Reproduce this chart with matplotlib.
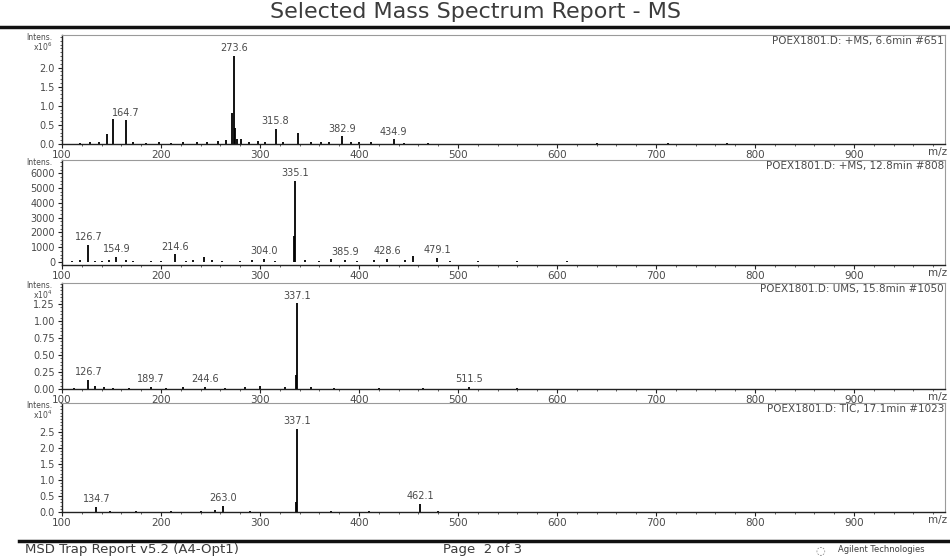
import matplotlib
matplotlib.use("Agg")
import matplotlib.pyplot as plt
from matplotlib.ticker import MultipleLocator, FixedLocator
from matplotlib.transforms import blended_transform_factory

# ---- spectrum data (m/z, intensity) ----
p1_mz = [118, 128, 137, 145, 152, 164.7, 172, 185, 198, 210, 222, 236, 246,
         258, 266, 271.6, 273.6, 274.6, 277, 281, 289, 298, 305, 315.8, 323,
         338, 352, 362, 370, 382.9, 392, 400, 412, 434.9, 445, 470, 640, 712, 772]
p1_int = [0.03, 0.05, 0.04, 0.26, 0.66, 0.62, 0.05, 0.03, 0.04, 0.03, 0.05, 0.06, 0.05,
          0.08, 0.10, 0.80, 2.30, 0.42, 0.12, 0.14, 0.05, 0.08, 0.04, 0.40, 0.05,
          0.30, 0.04, 0.06, 0.05, 0.20, 0.04, 0.06, 0.04, 0.12, 0.03, 0.02, 0.02, 0.02, 0.03]
p1_labels = [164.7, 273.6, 315.8, 382.9, 434.9]

p2_mz = [110, 118, 126.7, 133, 140, 147, 154.9, 165, 172, 190, 200, 214.6, 225,
         232, 243, 252, 262, 280, 292, 304.0, 315, 334.1, 335.1, 345, 360, 372,
         385.9, 398, 415, 428.6, 446, 455, 479.1, 492, 520, 560, 610]
p2_int = [60, 120, 1150, 100, 80, 150, 330, 120, 90, 60, 80, 520, 80,
          120, 330, 120, 90, 70, 120, 200, 90, 1750, 5500, 150, 100, 180,
          160, 100, 130, 200, 150, 400, 300, 100, 80, 60, 50]
p2_labels = [126.7, 154.9, 214.6, 304.0, 335.1, 385.9, 428.6, 479.1]

p3_mz = [112, 126.7, 133, 142, 152, 168, 189.7, 205, 222, 244.6, 265, 285, 300,
         325, 336.1, 337.1, 352, 375, 420, 465, 511.5, 560]
p3_int = [0.02, 0.13, 0.04, 0.03, 0.02, 0.02, 0.03, 0.02, 0.03, 0.03, 0.02, 0.03, 0.04,
          0.03, 0.20, 1.26, 0.03, 0.02, 0.02, 0.02, 0.03, 0.02]
p3_labels = [126.7, 189.7, 244.6, 337.1, 511.5]

p4_mz = [134.7, 148, 175, 210, 240, 255, 263.0, 290, 336.1, 337.1, 372, 410, 462.1, 480]
p4_int = [0.15, 0.04, 0.03, 0.03, 0.04, 0.06, 0.20, 0.03, 0.30, 2.60, 0.03, 0.02, 0.25, 0.03]
p4_labels = [134.7, 263.0, 337.1, 462.1]

x_ticks = [100, 200, 300, 400, 500, 600, 700, 800, 900]

panels = [
    dict(mz=p1_mz, inten=p1_int, labels=p1_labels,
         title="POEX1801.D: +MS, 6.6min #651", ylab="Intens.\nx10$^6$",
         ylim=(0, 2.85), yticks=[0.0, 0.5, 1.0, 1.5, 2.0], fmt="{:.1f}", minor=0.1,
         px=(35, 144)),
    dict(mz=p2_mz, inten=p2_int, labels=p2_labels,
         title="POEX1801.D: +MS, 12.8min #808", ylab="Intens.",
         ylim=(-200, 6900), yticks=[0, 1000, 2000, 3000, 4000, 5000, 6000], fmt="{:.0f}",
         minor=250, px=(160, 265)),
    dict(mz=p3_mz, inten=p3_int, labels=p3_labels,
         title="POEX1801.D: UMS, 15.8min #1050", ylab="Intens.\nx10$^4$",
         ylim=(0, 1.56), yticks=[0.0, 0.25, 0.5, 0.75, 1.0, 1.25], fmt="{:.2f}", minor=0.05,
         px=(283, 389)),
    dict(mz=p4_mz, inten=p4_int, labels=p4_labels,
         title="POEX1801.D: TIC, 17.1min #1023", ylab="Intens.\nx10$^4$",
         ylim=(0, 3.4), yticks=[0.0, 0.5, 1.0, 1.5, 2.0, 2.5], fmt="{:.1f}", minor=0.1,
         px=(403, 512)),
]

W, H = 950, 560
fig = plt.figure(figsize=(W / 100, H / 100), dpi=100)
fig.patch.set_facecolor("white")

TXT = "#4a4a4a"
LEFT, RIGHT = 62, 945

for p in panels:
    top, bot = p["px"]
    ax = fig.add_axes([LEFT / W, 1 - bot / H, (RIGHT - LEFT) / W, (bot - top) / H])
    ax.vlines(p["mz"], 0, p["inten"], color="black", linewidth=1.3)
    ax.set_xlim(100, 992)
    ax.set_ylim(*p["ylim"])

    ax.xaxis.set_major_locator(FixedLocator(x_ticks))
    ax.set_xticklabels([str(t) for t in x_ticks])
    ax.xaxis.set_minor_locator(MultipleLocator(20))
    ax.set_yticks(p["yticks"])
    ax.set_yticklabels([p["fmt"].format(v) for v in p["yticks"]])
    ax.yaxis.set_minor_locator(MultipleLocator(p["minor"]))
    ax.tick_params(axis="both", which="major", labelsize=7, colors="#222",
                   labelcolor=TXT, length=3, width=0.8, pad=2)
    ax.tick_params(axis="x", which="major", labelsize=7.5, pad=1.5)
    ax.tick_params(axis="both", which="minor", length=1.5, width=0.6, colors="#444")

    for side in ("top", "right"):
        ax.spines[side].set_color("#9a9a9a")
        ax.spines[side].set_linewidth(0.8)
    ax.spines["left"].set_color("#222")
    ax.spines["bottom"].set_color("#222")
    ax.spines["left"].set_linewidth(1.0)
    ax.spines["bottom"].set_linewidth(1.0)

    # spectrum title inside the top right corner
    ax.text(0.999, 0.99, p["title"], transform=ax.transAxes, ha="right", va="top",
            fontsize=7.5, color=TXT)
    # intensity label above the tick labels
    ax.text(-0.011, 1.02, p["ylab"], transform=ax.transAxes, ha="right", va="top",
            fontsize=5.5, color=TXT, linespacing=0.9)
    # m/z label at the end of the axis
    tr = blended_transform_factory(ax.transData, ax.transAxes)
    ax.text(984, -0.03, "m/z", transform=tr, ha="center", va="top",
            fontsize=7.5, color=TXT)

    # peak annotations
    for m, v in zip(p["mz"], p["inten"]):
        if m in p["labels"]:
            ax.annotate(f"{m:.1f}", (m, v), xytext=(0, 2), textcoords="offset points",
                        ha="center", va="bottom", fontsize=7, color=TXT)

# header
fig.text(0.5, 1 - 12 / H, "Selected Mass Spectrum Report - MS", ha="center", va="center",
         fontsize=16, color="#3c3c3c")
fig.add_artist(plt.Line2D([0, 1], [1 - 27 / H, 1 - 27 / H], transform=fig.transFigure,
                          color="#111", linewidth=2.5))

# footer
fig.add_artist(plt.Line2D([0.02, 1], [1 - 541 / H, 1 - 541 / H], transform=fig.transFigure,
                          color="#111", linewidth=2.5))
fig.text(25 / W, 1 - 550 / H, "MSD Trap Report v5.2 (A4-Opt1)", ha="left", va="center",
         fontsize=9.5, color="#3c3c3c")
fig.text(443 / W, 1 - 550 / H, "Page  2 of 3", ha="left", va="center",
         fontsize=9.5, color="#3c3c3c")
fig.text(820 / W, 1 - 550 / H, "\u25cc", ha="center", va="center", fontsize=8, color="#777")
fig.text(838 / W, 1 - 550 / H, "Agilent Technologies", ha="left", va="center",
         fontsize=6, color="#3c3c3c")

fig.savefig("out.png", dpi=100, facecolor="white")
